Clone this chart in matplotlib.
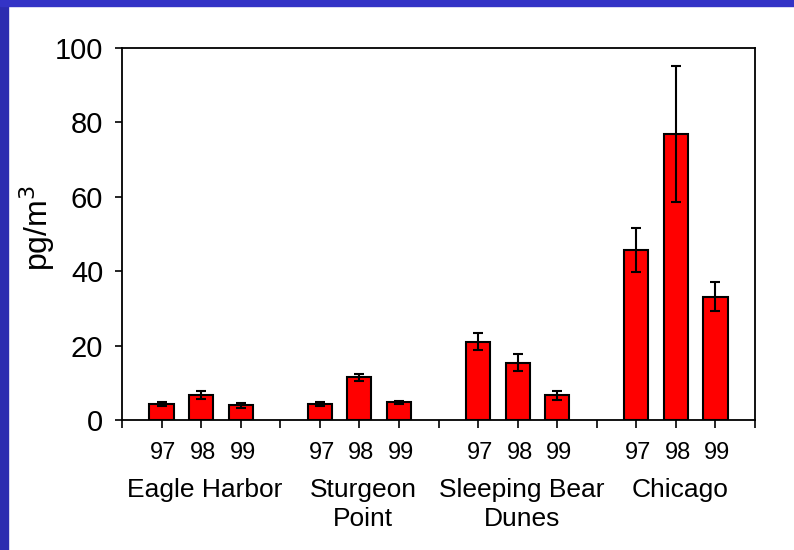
import numpy as np
import matplotlib
matplotlib.use("Agg")
import matplotlib.pyplot as plt
from matplotlib.patches import Rectangle

plt.rcParams["font.family"] = ["Liberation Sans", "DejaVu Sans"]

sites = ["Eagle Harbor", "Sturgeon\nPoint", "Sleeping Bear\nDunes", "Chicago"]
years = ["97", "98", "99"]
values = [
    [4.3, 6.7, 3.9],
    [4.3, 11.5, 4.8],
    [21.1, 15.4, 6.6],
    [45.7, 76.9, 33.1],
]
errors = [
    [0.5, 1.1, 0.8],
    [0.6, 1.0, 0.4],
    [2.2, 2.3, 1.2],
    [6.0, 18.3, 3.9],
]

W, H = 794, 550
fig = plt.figure(figsize=(W / 100, H / 100), dpi=100, facecolor="white")
ax = fig.add_axes([122 / W, 1 - 420 / H, (755 - 122) / W, (420 - 48) / H])

# slide frame
fig.patches.append(Rectangle((0, 0), 8 / W, 1, transform=fig.transFigure,
                             color="#2c2cb0", zorder=0))
fig.patches.append(Rectangle((0, 1 - 6 / H), 1, 6 / H, transform=fig.transFigure,
                             color="#3333c6", zorder=0))

# 4 slots per site: a blank one then the three years
pos, vals, errs, labels = [], [], [], []
for g in range(len(sites)):
    for k in range(len(years)):
        pos.append(g * 4 + 1 + k)
        vals.append(values[g][k])
        errs.append(errors[g][k])
        labels.append(years[k])

ax.bar(pos, vals, width=0.61, color="#ff0000", edgecolor="black", linewidth=1.5, zorder=2)
ax.errorbar(pos, vals, yerr=errs, fmt="none", ecolor="black", elinewidth=1.5,
            capsize=3.6, capthick=1.5, zorder=3)

ax.set_xlim(0, 16)
ax.set_ylim(0, 100)
ax.set_xticks(np.arange(0, 17))
ax.set_xticklabels([])
ax.set_yticks(np.arange(0, 101, 20))
ax.tick_params(axis="y", labelsize=21, length=5, width=1.2, direction="out", pad=8.5)
ax.tick_params(axis="x", length=6, width=1.2, direction="out")
for s in ax.spines.values():
    s.set_linewidth(1.3)
ax.set_ylabel("pg/m$^3$", fontsize=23)
ax.yaxis.set_label_coords(-0.103, 0.516)

# year labels under the bars, site names under each group
xt = ax.get_xaxis_transform()
y_year = -(459 - 420) / (420 - 48)
y_site = -(478 - 420) / (420 - 48)
for p, lab in zip(pos, labels):
    ax.text(p + 0.05, y_year, lab, transform=xt, fontsize=17, ha="center", va="baseline")
for g, name in enumerate(sites):
    ax.text(g * 4 + 2 + 0.1, y_site, name, transform=xt, fontsize=19, ha="center",
            va="top", linespacing=1.25)

fig.savefig("out.png", dpi=100, facecolor="white")
